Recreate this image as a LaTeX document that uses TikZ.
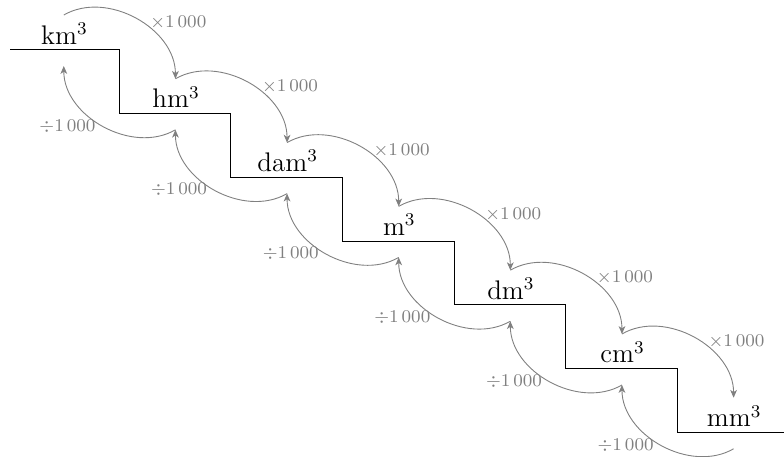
\documentclass[tikz,border=0pt]{standalone}
\usetikzlibrary{arrows.meta}
\begin{document}
\begin{tikzpicture}[x=1cm,y=1cm,
    unit/.style={anchor=base,font=\large},
    conv/.style={gray,-{Stealth[length=3.5pt,width=3pt,inset=1pt]}},
    fac/.style={gray,font=\footnotesize}]
    \useasboundingbox (0,0) rectangle (12.29,-7.163);
    % staircase
    \draw (0.16,-0.78) -- (1.87,-0.78) -- (1.87,-1.78) -- (3.62,-1.78) -- (3.62,-2.78)
        -- (5.37,-2.78) -- (5.37,-3.78) -- (7.12,-3.78) -- (7.12,-4.78) -- (8.87,-4.78)
        -- (8.87,-5.78) -- (10.62,-5.78) -- (10.62,-6.78) -- (12.29,-6.78);
    % units
    \node[unit] (km) at (1.01,-0.69) {km$^3$};
    \node[unit] (hm) at (2.76,-1.69) {hm$^3$};
    \node[unit] (dam) at (4.51,-2.69) {dam$^3$};
    \node[unit] (m) at (6.26,-3.69) {m$^3$};
    \node[unit] (dm) at (8.01,-4.69) {dm$^3$};
    \node[unit] (cm) at (9.76,-5.69) {cm$^3$};
    \node[unit] (mm) at (11.51,-6.69) {mm$^3$};
    % arrow ends above and below each step
    \coordinate (km-up) at (1.00,-0.235);  \coordinate (km-dn) at (1.00,-1.035);
    \coordinate (hm-up) at (2.75,-1.235);  \coordinate (hm-dn) at (2.75,-2.035);
    \coordinate (dam-up) at (4.50,-2.235); \coordinate (dam-dn) at (4.50,-3.035);
    \coordinate (m-up) at (6.25,-3.235);   \coordinate (m-dn) at (6.25,-4.035);
    \coordinate (dm-up) at (8.00,-4.235);  \coordinate (dm-dn) at (8.00,-5.035);
    \coordinate (cm-up) at (9.75,-5.235);  \coordinate (cm-dn) at (9.75,-6.035);
    \coordinate (mm-up) at (11.50,-6.235); \coordinate (mm-dn) at (11.50,-7.035);
    % going down
    \draw[conv] (km-up) to[out=30,in=90] node[fac,pos=.55,right]{$\times$1\,000} (hm-up);
    \draw[conv] (hm-up) to[out=30,in=90] node[fac,pos=.55,right]{$\times$1\,000} (dam-up);
    \draw[conv] (dam-up) to[out=30,in=90] node[fac,pos=.55,right]{$\times$1\,000} (m-up);
    \draw[conv] (m-up) to[out=30,in=90] node[fac,pos=.55,right]{$\times$1\,000} (dm-up);
    \draw[conv] (dm-up) to[out=30,in=90] node[fac,pos=.55,right]{$\times$1\,000} (cm-up);
    \draw[conv] (cm-up) to[out=30,in=90] node[fac,pos=.55,right]{$\times$1\,000} (mm-up);
    % going up
    \draw[conv] (hm-dn) to[out=210,in=-90] node[fac,pos=.5,left]{$\div$1\,000} (km-dn);
    \draw[conv] (dam-dn) to[out=210,in=-90] node[fac,pos=.5,left]{$\div$1\,000} (hm-dn);
    \draw[conv] (m-dn) to[out=210,in=-90] node[fac,pos=.5,left]{$\div$1\,000} (dam-dn);
    \draw[conv] (dm-dn) to[out=210,in=-90] node[fac,pos=.5,left]{$\div$1\,000} (m-dn);
    \draw[conv] (cm-dn) to[out=210,in=-90] node[fac,pos=.5,left]{$\div$1\,000} (dm-dn);
    \draw[conv] (mm-dn) to[out=210,in=-90] node[fac,pos=.5,left]{$\div$1\,000} (cm-dn);
\end{tikzpicture}
\end{document}
